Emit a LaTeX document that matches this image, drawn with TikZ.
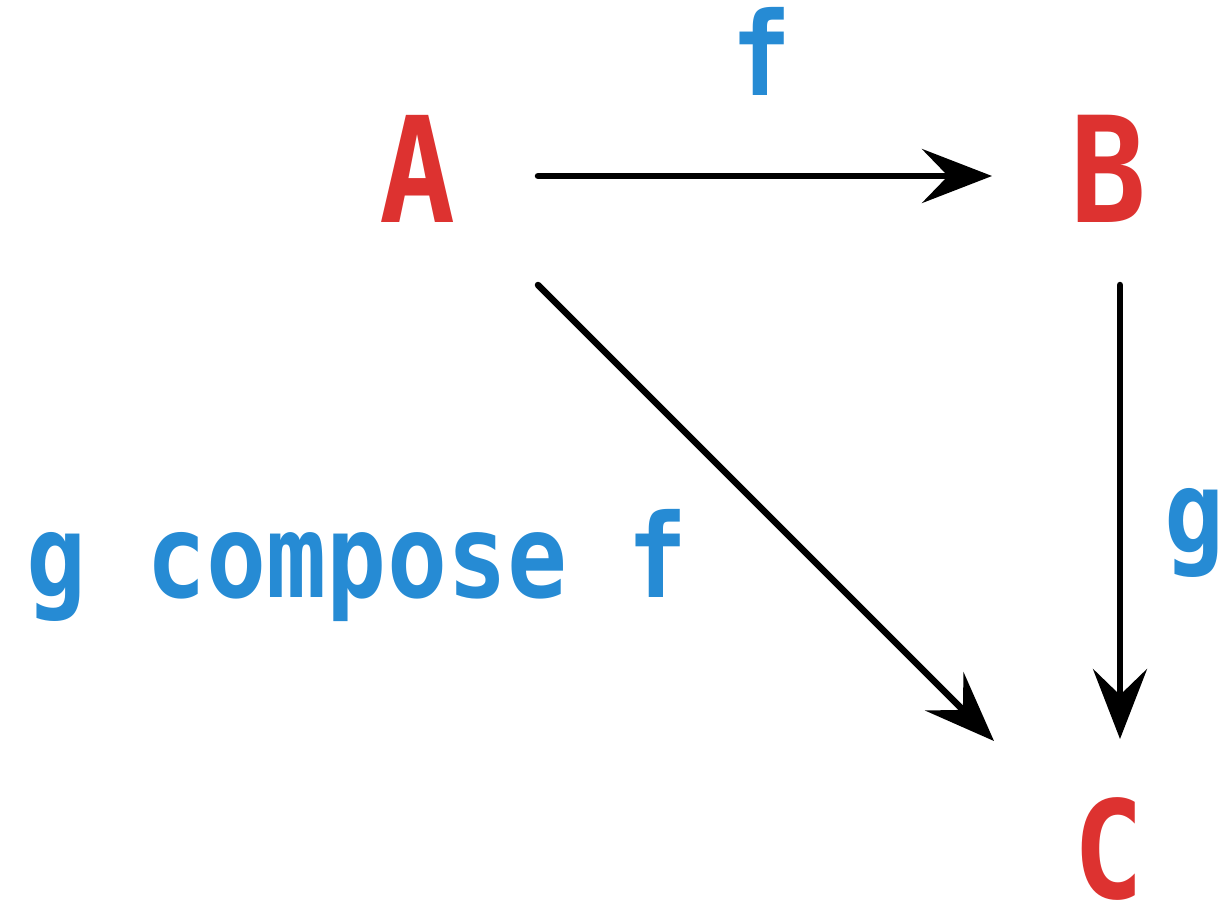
\documentclass[tikz,border=0pt]{standalone}
\usepackage{fontspec}
\newfontfamily\labfont{DejaVu Sans Mono}[FakeStretch=0.86]
\usetikzlibrary{arrows.meta}
\definecolor{nodered}{RGB}{221,50,48}
\definecolor{labblue}{RGB}{38,139,212}
\tikzset{
  obj/.style={anchor=base, inner sep=0pt, text=nodered, font=\labfont\bfseries\fontsize{147}{150}\selectfont},
  lab/.style={anchor=base, inner sep=0pt, text=labblue, font=\labfont\bfseries\fontsize{116}{120}\selectfont},
  arr/.style={line width=6.5pt, line cap=round, -{Stealth[length=70pt, width=54pt, inset=26pt]}}
}
\begin{document}
\begin{tikzpicture}[x=1pt, y=-1pt]
\useasboundingbox (0,0) rectangle (1225,914);
\node[obj] (A) at (417.5,222) {A};
\node[obj] (B) at (1108.5,222) {B};
\node[obj, font=\labfont\bfseries\fontsize{136}{140}\selectfont] (C) at (1108.5,898) {C};
\coordinate (Aright) at (538,176);
\coordinate (Adown) at (538,285);
\coordinate (Bleft) at (992,176);
\coordinate (Bdown) at (1120,285);
\coordinate (Cup) at (1120,739);
\coordinate (Cleft) at (994,741);
\draw[arr] (Aright) -- (Bleft);
\draw[arr] (Adown) -- (Cleft);
\draw[arr] (Bdown) -- (Cup);
\node[lab] (f) at (762,95) {f};
\node[lab] (g) at (1195,553) {g};
\node[lab] (gf) at (357,597) {g compose f};
\end{tikzpicture}
\end{document}
